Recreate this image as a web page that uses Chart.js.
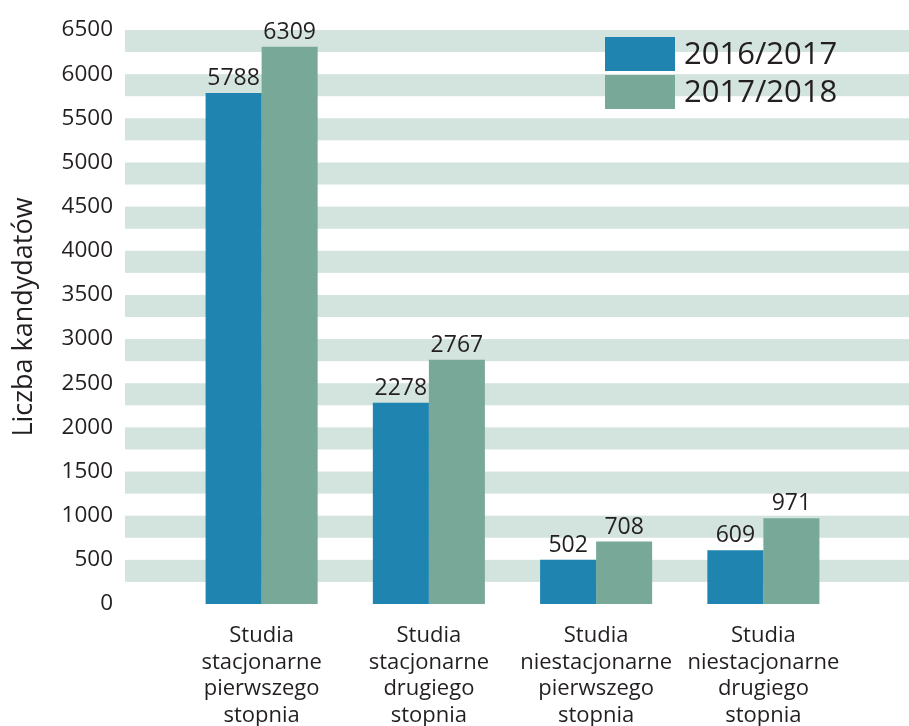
<!DOCTYPE html>
<html>
<head>
<meta charset="utf-8">
<script src="https://cdn.jsdelivr.net/npm/chart.js@4"></script>
<style>
    html, body { margin: 0; padding: 0; background: #ffffff; }
    #wrap { width: 909px; height: 726px; }
</style>
</head>
<body>
<div id="wrap"><canvas id="kandydaciChart" width="909" height="726"></canvas></div>
<script>
// Data
const categories = [
    ['Studia', 'stacjonarne', 'pierwszego', 'stopnia'],
    ['Studia', 'stacjonarne', 'drugiego', 'stopnia'],
    ['Studia', 'niestacjonarne', 'pierwszego', 'stopnia'],
    ['Studia', 'niestacjonarne', 'drugiego', 'stopnia']
];
const seriesNames = ['2016/2017', '2017/2018'];
const values2016 = [5788, 2278, 502, 609];
const values2017 = [6309, 2767, 708, 971];
const yTicks = [0, 500, 1000, 1500, 2000, 2500, 3000, 3500, 4000, 4500, 5000, 5500, 6000, 6500];

const textColor = '#231f20';
const fontFamily = '"Open Sans", "DejaVu Sans", sans-serif';

// light bands between each tick and the half-step below it
const bandsPlugin = {
    id: 'bands',
    beforeDatasetsDraw(chart) {
        const { ctx, chartArea, scales } = chart;
        const y = scales.y;
        const left = chartArea.left - 53;
        ctx.save();
        ctx.fillStyle = '#d3e3de';
        for (let i = 1; i < yTicks.length; i++) {
            const top = y.getPixelForValue(yTicks[i]);
            const bottom = y.getPixelForValue(yTicks[i] - 250);
            ctx.fillRect(left, top, chart.width - left, bottom - top);
        }
        ctx.restore();
    }
};

// value labels above bars
const valueLabelsPlugin = {
    id: 'valueLabels',
    afterDatasetsDraw(chart) {
        const { ctx } = chart;
        ctx.save();
        ctx.fillStyle = textColor;
        ctx.font = '23px ' + fontFamily;
        ctx.textAlign = 'center';
        ctx.textBaseline = 'bottom';
        chart.data.datasets.forEach((ds, di) => {
            chart.getDatasetMeta(di).data.forEach((bar, i) => {
                ctx.fillText(String(ds.data[i]), bar.x, bar.y - 3);
            });
        });
        ctx.restore();
    }
};

// legend in the upper right corner
const boxLegendPlugin = {
    id: 'boxLegend',
    afterDraw(chart) {
        const { ctx } = chart;
        ctx.save();
        ctx.font = '31px ' + fontFamily;
        ctx.textBaseline = 'middle';
        ctx.textAlign = 'left';
        chart.data.datasets.forEach((ds, i) => {
            const top = 37 + i * 38;
            ctx.fillStyle = ds.backgroundColor;
            ctx.fillRect(605, top, 70, 34);
            ctx.fillStyle = textColor;
            ctx.fillText(ds.label, 684, top + 18);
        });
        ctx.restore();
    }
};

const chartData = {
    labels: categories,
    datasets: [
        { label: seriesNames[0], data: values2016, backgroundColor: '#1f84b0' },
        { label: seriesNames[1], data: values2017, backgroundColor: '#78a898' }
    ]
};

const chartConfig = {
    type: 'bar',
    data: chartData,
    options: {
        responsive: false,
        animation: false,
        datasets: {
            bar: { categoryPercentage: 0.67, barPercentage: 1.0 }
        },
        layout: {
            padding: { top: 30, right: 62, bottom: 0, left: 0 }
        },
        plugins: {
            legend: { display: false },
            tooltip: { enabled: false }
        },
        scales: {
            x: {
                grid: { display: false, drawTicks: false },
                border: { display: false },
                ticks: {
                    color: textColor,
                    font: { family: fontFamily, size: 22, lineHeight: 1.2 },
                    padding: 19,
                    maxRotation: 0,
                    autoSkip: false
                },
                afterFit(scale) {
                    scale.height = 122;
                }
            },
            y: {
                min: 0,
                max: 6500,
                grid: { display: false, drawTicks: false },
                border: { display: false },
                ticks: {
                    stepSize: 500,
                    color: textColor,
                    font: { family: fontFamily, size: 22.5 },
                    padding: 65,
                    callback: (value) => String(value)
                },
                title: {
                    display: true,
                    text: 'Liczba kandydatów',
                    color: textColor,
                    font: { family: fontFamily, size: 27 },
                    padding: { top: 8, bottom: 0 }
                },
                afterFit(scale) {
                    scale.width = 178;
                    // tick padding should not push the plot area down
                    scale.paddingTop = 14;
                    scale.paddingBottom = 14;
                }
            }
        }
    },
    plugins: [bandsPlugin, valueLabelsPlugin, boxLegendPlugin]
};

const kandydaciChart = new Chart(
    document.getElementById('kandydaciChart'),
    chartConfig
);
</script>
</body>
</html>
